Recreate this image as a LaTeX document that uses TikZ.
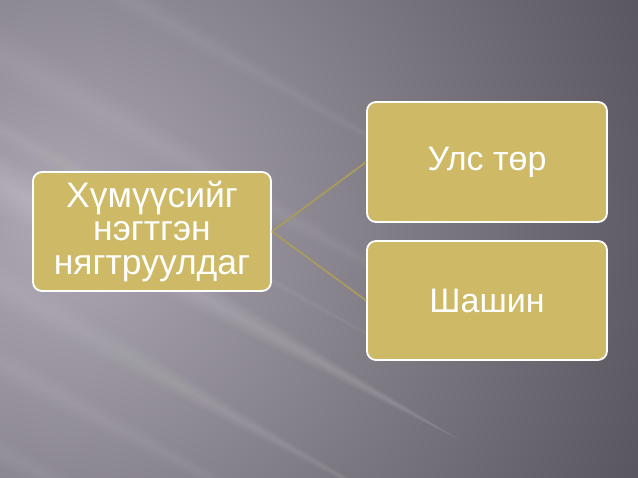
\documentclass[tikz,border=0pt]{standalone}
\usepackage{fontspec}
\setmainfont{Liberation Sans}
\begin{document}
\begin{tikzpicture}[x=1pt,y=-1pt,
  box/.style={draw=white, line width=1.8pt, fill=boxgold, rounded corners=9pt,
    text=white, align=center, inner sep=0pt},
  link/.style={draw=linkgold, line width=1.8pt}]
\definecolor{boxgold}{HTML}{CDB966}
\definecolor{linkgold}{HTML}{A99B5C}
\definecolor{bgdark}{HTML}{58545D}
\definecolor{bglight}{HTML}{ADA8B3}
\useasboundingbox (0,0) rectangle (638,478);
\begin{scope}
\clip (0,0) rectangle (638,478);
\fill[bgdark] (0,0) rectangle (638,478);
\shade[inner color=bglight, outer color=bgdark] (60,230) circle (640);
% soft tapered light streaks: start x, start y, length dx, dy, half width, opacity
\foreach \sx/\sy/\dx/\dy/\w/\o in {
   -40/30/560/320/30/0.10,
   -60/150/520/290/34/0.16,
   -60/250/460/260/26/0.12,
   -60/330/420/230/22/0.10,
   -60/420/360/190/18/0.08,
   60/-40/420/240/20/0.08,
   -60/95/500/280/14/0.08}{
  \foreach \k in {1,...,6}{
    \fill[white, opacity=\o/6]
      (\sx,\sy-\w*\k/6) -- (\sx+\dx,\sy+\dy) -- (\sx,\sy+\w*\k/6) -- cycle;
  }
}
\end{scope}
\node[box, minimum width=238pt, minimum height=119pt, font=\fontsize{35.5}{33.5}\selectfont] (L) at (152,231.5) {Хүмүүсийг\\нэгтгэн\\нягтруулдаг};
\node[box, minimum width=240pt, minimum height=120pt, font=\fontsize{34}{40}\selectfont] (A) at (487,162) {Улс төр};
\node[box, minimum width=240pt, minimum height=119pt, font=\fontsize{34}{40}\selectfont] (B) at (487,300.5) {Шашин};
\draw[link] (L.east) -- (A.west);
\draw[link] (L.east) -- (B.west);
\end{tikzpicture}
\end{document}
